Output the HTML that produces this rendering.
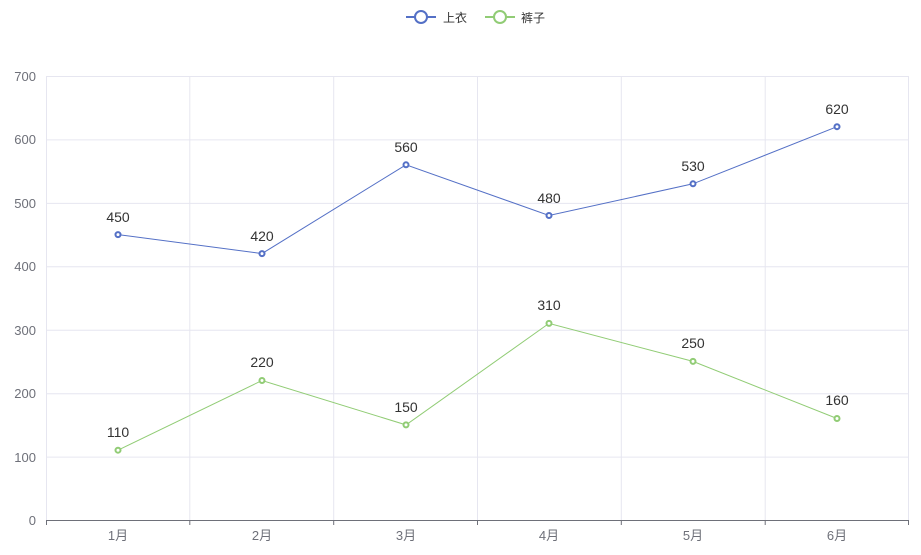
<!DOCTYPE html>
<html><head><meta charset="utf-8"><style>body{margin:0;background:#fff}svg{display:block}</style></head><body>
<svg width="921" height="555" xmlns="http://www.w3.org/2000/svg" font-family="'Liberation Sans','Noto Sans CJK SC',sans-serif">
<g stroke="#e6e6f0" stroke-width="1">
<line x1="46" y1="76.5" x2="909" y2="76.5"/><line x1="46" y1="139.9" x2="909" y2="139.9"/><line x1="46" y1="203.4" x2="909" y2="203.4"/><line x1="46" y1="266.8" x2="909" y2="266.8"/><line x1="46" y1="330.3" x2="909" y2="330.3"/><line x1="46" y1="393.7" x2="909" y2="393.7"/><line x1="46" y1="457.1" x2="909" y2="457.1"/>
<line x1="46.5" y1="76" x2="46.5" y2="520"/><line x1="189.8" y1="76" x2="189.8" y2="520"/><line x1="333.7" y1="76" x2="333.7" y2="520"/><line x1="477.5" y1="76" x2="477.5" y2="520"/><line x1="621.3" y1="76" x2="621.3" y2="520"/><line x1="765.2" y1="76" x2="765.2" y2="520"/><line x1="908.5" y1="76" x2="908.5" y2="520"/>
</g>
<g stroke="#6e7079"><line x1="46" y1="520.5" x2="909" y2="520.5"/>
<line x1="46.5" y1="520" x2="46.5" y2="525"/><line x1="189.8" y1="520" x2="189.8" y2="525"/><line x1="333.7" y1="520" x2="333.7" y2="525"/><line x1="477.5" y1="520" x2="477.5" y2="525"/><line x1="621.3" y1="520" x2="621.3" y2="525"/><line x1="765.2" y1="520" x2="765.2" y2="525"/><line x1="908.5" y1="520" x2="908.5" y2="525"/></g>
<g fill="#6e7079" font-size="13" text-anchor="end">
<text x="36" y="81">700</text><text x="36" y="144">600</text><text x="36" y="208">500</text><text x="36" y="271">400</text><text x="36" y="335">300</text><text x="36" y="398">200</text><text x="36" y="462">100</text><text x="36" y="525">0</text></g>
<g fill="#6e7079" font-size="13" text-anchor="middle">
<text x="118" y="540">1月</text><text x="262" y="540">2月</text><text x="406" y="540">3月</text><text x="549" y="540">4月</text><text x="693" y="540">5月</text><text x="837" y="540">6月</text></g>
<polyline fill="none" stroke="#5470c6" stroke-width="1" points="118,234.6 262,253.6 406,164.8 549,215.5 693,183.8 837,126.7"/>
<polyline fill="none" stroke="#91cc75" stroke-width="1" points="118,450.2 262,380.5 406,424.9 549,323.4 693,361.4 837,418.5"/>
<g fill="#fff" stroke="#5470c6" stroke-width="2">
<circle cx="118" cy="234.6" r="2.5"/><circle cx="262" cy="253.6" r="2.5"/><circle cx="406" cy="164.8" r="2.5"/><circle cx="549" cy="215.5" r="2.5"/><circle cx="693" cy="183.8" r="2.5"/><circle cx="837" cy="126.7" r="2.5"/></g>
<g fill="#fff" stroke="#91cc75" stroke-width="2">
<circle cx="118" cy="450.2" r="2.5"/><circle cx="262" cy="380.5" r="2.5"/><circle cx="406" cy="424.9" r="2.5"/><circle cx="549" cy="323.4" r="2.5"/><circle cx="693" cy="361.4" r="2.5"/><circle cx="837" cy="418.5" r="2.5"/></g>
<g fill="#333" font-size="14" text-anchor="middle">
<text x="118" y="222">450</text><text x="262" y="241">420</text><text x="406" y="152">560</text><text x="549" y="203">480</text><text x="693" y="171">530</text><text x="837" y="114">620</text>
<text x="118" y="437">110</text><text x="262" y="367">220</text><text x="406" y="412">150</text><text x="549" y="310">310</text><text x="693" y="348">250</text><text x="837" y="405">160</text></g>
<line x1="406" y1="17" x2="436" y2="17" stroke="#5470c6" stroke-width="2"/><circle cx="421" cy="17" r="6" fill="#fff" stroke="#5470c6" stroke-width="2"/>
<line x1="485" y1="17" x2="515" y2="17" stroke="#91cc75" stroke-width="2"/><circle cx="500" cy="17" r="6" fill="#fff" stroke="#91cc75" stroke-width="2"/>
<g fill="#333" font-size="12"><text x="443" y="22">上衣</text><text x="521" y="22">裤子</text></g>
</svg>
</body></html>
